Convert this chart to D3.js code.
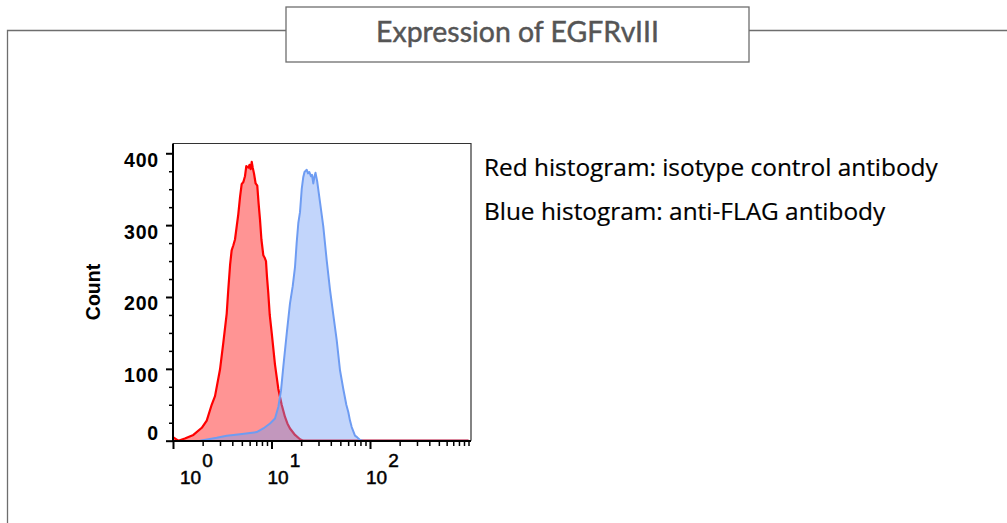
<!DOCTYPE html>
<html><head><meta charset="utf-8">
<script src="https://cdn.jsdelivr.net/npm/d3@7"></script>
<style>body{margin:0;background:#fff;} svg{display:block;}</style>
</head><body>
<svg id="c" width="1007" height="523"></svg>
<script>
// ---- data ----
const titleText = "Expression of EGFRvIII";
const legendLines = ["Red histogram: isotype control antibody", "Blue histogram: anti-FLAG antibody"];
const yAxisLabel = "Count";
const yTickValues = [0, 100, 200, 300, 400];
const xTickExponents = [0, 1, 2];

// isotype control (red): fluorescence value, count
const redX = [1.0, 1.13, 1.32, 1.61, 1.96, 2.2, 2.47, 2.67, 3.0, 3.24, 3.51, 3.64, 3.8, 3.94, 4.1, 4.26, 4.45, 4.6, 4.8, 4.98, 5.18, 5.38, 5.55, 5.68, 5.85, 5.98, 6.15, 6.3, 6.45, 6.64, 6.9, 7.17, 7.4, 7.64, 7.9, 8.26, 8.5, 8.79, 9.0, 9.28, 9.6, 10.05, 10.85, 11.73, 12.69, 13.71, 14.5, 15.41, 17.33, 19.47, 21, 1000];
const redCount = [5, 0, 3, 8, 18, 28, 50, 62, 99, 136, 177, 210, 245, 265, 272, 280, 300, 315, 340, 357, 360, 368, 382, 381, 380, 384, 378, 388, 380, 372, 358, 355, 330, 308, 280, 258, 255, 250, 228, 205, 175, 150, 106, 72, 50, 33, 24, 17, 8, 2, 0, 0];

// anti-FLAG (blue): fluorescence value, count
const blueX = [1.88, 2.78, 3.51, 4.79, 7.07, 8.26, 9.66, 10.85, 11.73, 12.49, 13.18, 14.27, 15.41, 16.42, 17.33, 18.0, 18.72, 19.47, 20.26, 21.03, 21.63, 22.78, 23.49, 24.2, 25.18, 25.77, 26.57, 27.33, 27.97, 29.17, 31.08, 33.57, 36.35, 39.27, 42.42, 45.92, 49.6, 53.56, 57.5, 60.2, 62.66, 65.2, 70.4, 73.8, 79.15, 84.9, 1000];
const blueCount = [0, 4, 7, 9, 12, 17, 24, 31, 47, 70, 103, 149, 191, 215, 242, 275, 303, 318, 350, 367, 374, 377, 372, 374, 368, 370, 358, 368, 373, 360, 332, 298, 251, 210, 175, 140, 98, 72, 50, 40, 28, 19, 7, 5, 1, 0, 0];

// ---- layout ----
const svg = d3.select("#c");
const P = {left: 173, right: 471, top: 143.5, bottom: 440.7};

const x = d3.scaleLog().domain([1, Math.pow(10, 3.0254)]).range([P.left, P.right]);
const y = d3.scaleLinear().domain([0, 413.6]).range([P.bottom, P.top]);

// outer frame
svg.append("path").attr("d", "M7.5,523 V30.5 H286 M749,30.5 H1007")
  .attr("fill", "none").attr("stroke", "#6e6e6e").attr("stroke-width", 1.3);
svg.append("rect").attr("x", 286).attr("y", 7).attr("width", 463).attr("height", 55)
  .attr("fill", "#fff").attr("stroke", "#6e6e6e").attr("stroke-width", 1.3);

function fitText(sel, target, base) {
  const w = sel.node().getComputedTextLength();
  const fs = base * target / w;
  sel.attr("font-size", fs);
  return fs;
}

const t = svg.append("text").attr("x", 517.5).attr("y", 42).attr("text-anchor", "middle")
  .attr("font-family", "Lato, 'Open Sans', sans-serif").attr("font-size", 22)
  .attr("fill", "#555").attr("stroke", "#555").attr("stroke-width", 0.45).text(titleText);
fitText(t, 283, 22);

// legend text
let legendFs = 22;
legendLines.forEach((s, i) => {
  const lt = svg.append("text").attr("x", 484).attr("y", 175.5 + i * 44)
    .attr("font-family", "'Open Sans', 'Noto Sans', sans-serif").attr("font-size", 22)
    .attr("fill", "#000").attr("stroke", "#000").attr("stroke-width", 0.2).text(s);
  if (i === 0) legendFs = fitText(lt, 454, 22);
  else lt.attr("font-size", legendFs);
});

// histograms
const defs = svg.append("defs");
defs.append("clipPath").attr("id", "pc").append("rect")
  .attr("x", P.left).attr("y", P.top).attr("width", P.right - P.left).attr("height", P.bottom - P.top + 2);

const area = d3.area().x(d => x(d[0])).y0(y(0)).y1(d => y(d[1]));
const line = d3.line().x(d => x(d[0])).y(d => y(d[1]));
const g = svg.append("g").attr("clip-path", "url(#pc)");

const red = redX.map((v, i) => [v, redCount[i]]);
const blue = blueX.map((v, i) => [v, blueCount[i]]);

g.append("path").datum(red).attr("d", area).attr("fill", "rgba(255,0,0,0.42)");
g.append("path").datum(red).attr("d", line).attr("fill", "none").attr("stroke", "#ff0000").attr("stroke-width", 2.2).attr("stroke-linejoin", "round");
g.append("path").datum(blue).attr("d", area).attr("fill", "rgba(110,155,245,0.42)");
g.append("path").datum(blue).attr("d", line).attr("fill", "none").attr("stroke", "#6e9cf2").attr("stroke-width", 2).attr("stroke-linejoin", "round");

// frame: top & right thin
svg.append("path").attr("d", `M${P.left},${P.top} H${P.right} V${P.bottom}`)
  .attr("fill", "none").attr("stroke", "#333").attr("stroke-width", 1.2);

// y axis
const yAxis = d3.axisLeft(y).tickValues(d3.range(0, 401, 25)).tickSize(0).tickFormat("");
const yg = svg.append("g").attr("transform", `translate(${P.left},0)`).call(yAxis);
yg.select(".domain").remove();
yg.selectAll(".tick line").attr("x2", d => d % 100 === 0 ? -7 : -4)
  .attr("stroke", "#000").attr("stroke-width", d => d % 100 === 0 ? 2 : 1.5);
svg.append("line").attr("x1", P.left).attr("x2", P.left).attr("y1", P.top).attr("y2", P.bottom + 1)
  .attr("stroke", "#000").attr("stroke-width", 2);

svg.append("g").selectAll("text").data(yTickValues).join("text")
  .attr("x", 159).attr("y", d => d === 0 ? y(d) - 0.5 : y(d) + 13.5)
  .attr("text-anchor", "end").attr("font-family", "'Liberation Sans', Arial, sans-serif")
  .attr("font-weight", "bold").attr("font-size", 19.5).attr("letter-spacing", 0.8)
  .attr("fill", "#000").text(d => d);

svg.append("text").attr("transform", `translate(99.5,292) rotate(-90)`).attr("text-anchor", "middle")
  .attr("font-family", "'Liberation Sans', Arial, sans-serif").attr("font-weight", "bold")
  .attr("font-size", 19.5).text(yAxisLabel);

// x axis
const minorVals = [];
[1, 10, 100].forEach(d => { for (let k = 2; k <= 9; k++) minorVals.push(d * k); });
minorVals.push(1000);
const majorVals = xTickExponents.map(e => Math.pow(10, e));
const xAxis = d3.axisBottom(x).tickValues(majorVals.concat(minorVals)).tickSize(0).tickFormat("");
const xg = svg.append("g").attr("transform", `translate(0,${P.bottom + 0.3})`).call(xAxis);
xg.select(".domain").remove();
xg.selectAll(".tick line").attr("y2", d => majorVals.includes(d) ? 8 : 5)
  .attr("stroke", "#000").attr("stroke-width", d => majorVals.includes(d) ? 2 : 1.5);
svg.append("line").attr("x1", P.left - 1).attr("x2", P.right).attr("y1", P.bottom + 0.3).attr("y2", P.bottom + 0.3)
  .attr("stroke", "#000").attr("stroke-width", 2);

const xl = svg.append("g").selectAll("text").data(xTickExponents).join("text")
  .attr("x", d => x(Math.pow(10, d)) + (d === 0 ? 7 : -4)).attr("y", 484)
  .attr("font-family", "'Liberation Sans', Arial, sans-serif").attr("font-size", 19)
  .attr("stroke", "#000").attr("stroke-width", 0.5).attr("fill", "#000");
xl.append("tspan").text("10");
xl.append("tspan").attr("dx", 1).attr("dy", -17).text(d => d);
</script>
</body></html>
